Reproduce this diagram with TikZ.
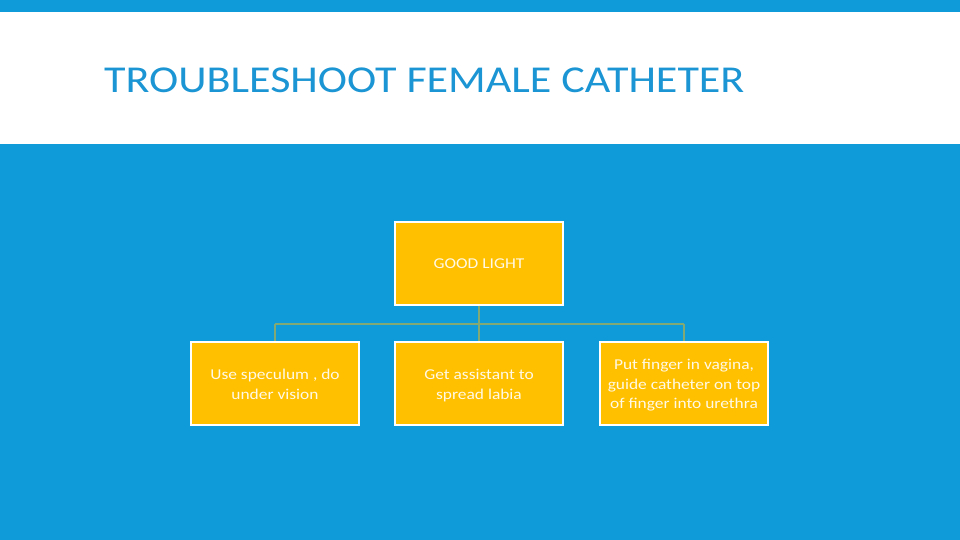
\documentclass[tikz,border=0pt]{standalone}
\usepackage{fontspec}
\setmainfont{Carlito}
\definecolor{bgblue}{HTML}{0F9ADA}
\definecolor{titleblue}{HTML}{1B95D3}
\definecolor{boxfill}{HTML}{FFC000}
\definecolor{linkcol}{HTML}{82A874}
\definecolor{boxtext}{HTML}{FFF9E6}
\newcommand{\widetxt}[1]{\raisebox{-2pt}[\height][\depth]{\scalebox{1.16}[1]{\begin{tabular}{@{}c@{}}#1\end{tabular}}}}
\begin{document}
\begin{tikzpicture}[x=1pt,y=-1pt,
  box/.style={draw=white,line width=2pt,fill=boxfill,minimum width=168pt,minimum height=83pt,
    text=boxtext,font=\fontsize{15}{19.5}\selectfont,align=center,inner sep=0pt},
  link/.style={draw=linkcol,line width=2.2pt}]
\useasboundingbox (0,0) rectangle (960,540);
\fill[bgblue] (0,0) rectangle (960,540);
\fill[white] (0,12) rectangle (960,144);
\node[anchor=base west,text=titleblue,font=\fontsize{38}{40}\selectfont,inner sep=0pt] (title) at (104,93) {\scalebox{1.16}[1]{TROUBLESHOOT FEMALE CATHETER}};
\node[box] (top) at (479,263) {\widetxt{GOOD LIGHT}};
\node[box] (b1) at (275,383.5) {\widetxt{Use speculum , do\\under vision}};
\node[box] (b2) at (479,383.5) {\widetxt{Get assistant to\\spread labia}};
\node[box] (b3) at (684,383.5) {\widetxt{Put finger in vagina,\\guide catheter on top\\of finger into urethra}};
\coordinate (j) at (479,324);
\coordinate (jl) at (275,324);
\coordinate (jr) at (684,324);
\draw[link] (top.south) -- (j);
\draw[link] (jl) -- (jr);
\draw[link] (jl) -- (b1.north);
\draw[link] (j) -- (b2.north);
\draw[link] (jr) -- (b3.north);
\end{tikzpicture}
\end{document}
